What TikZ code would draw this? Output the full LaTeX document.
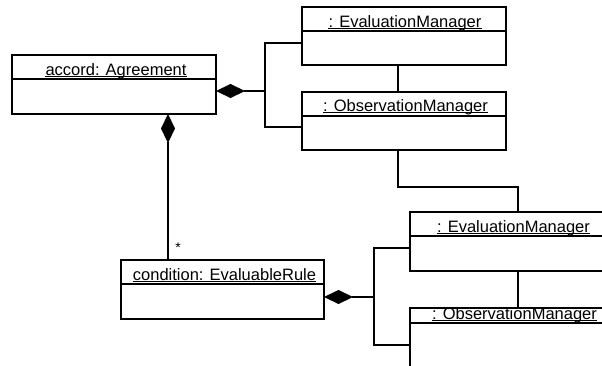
\documentclass[tikz,border=0pt]{standalone}
\usepackage{fontspec}
\setmainfont{Liberation Sans}
\usetikzlibrary{arrows.meta}
\begin{document}
\begin{tikzpicture}[x=1pt,y=-1pt,
  box/.style={draw, line width=1.1pt, inner sep=0pt, outer sep=0pt, anchor=north west},
  lbl/.style={inner sep=0pt, anchor=base, font=\fontsize{16.5}{18}\selectfont},
  uln/.style={draw, line width=0.8pt},
  conn/.style={draw, line width=1.1pt},
  comp/.style={conn, {Diamond[length=29pt,width=14pt]}-}]
\useasboundingbox (0,0) rectangle (602,365);
\fill[white] (0,0) rectangle (602,365);
\clip (0,0) rectangle (602,365);
% boxes
\node[box, minimum width=204pt, minimum height=59pt] (agr) at (12,55) {};
\node[box, minimum width=204pt, minimum height=58pt] (emA) at (302,7) {};
\node[box, minimum width=204pt, minimum height=58pt] (omA) at (302,92) {};
\node[box, minimum width=240pt, minimum height=59pt] (emB) at (410,212) {};
\node[box, minimum width=240pt, minimum height=100pt] (omB) at (410,308) {};
\node[box, minimum width=203pt, minimum height=59pt] (cond) at (121,260) {};
% dividers
\draw[line width=1.1pt] (agr.west |- 0,79) -- (agr.east |- 0,79);
\draw[line width=1.1pt] (emA.west |- 0,31) -- (emA.east |- 0,31);
\draw[line width=1.1pt] (omA.west |- 0,116) -- (omA.east |- 0,116);
\draw[line width=1.1pt] (emB.west |- 0,236) -- (emB.east |- 0,236);
\draw[line width=1.1pt] (omB.west |- 0,323) -- (omB.east |- 0,323);
\draw[line width=1.1pt] (cond.west |- 0,284) -- (cond.east |- 0,284);
% labels
\node[lbl] (agrT) at (116,75) {accord: Agreement};
\node[lbl] (emAT) at (405,27) {: EvaluationManager};
\node[lbl] (omAT) at (405.5,111) {: ObservationManager};
\node[lbl] (emBT) at (513.5,232) {: EvaluationManager};
\node[lbl] (omBT) at (514.5,319) {: ObservationManager};
\node[lbl] (condT) at (224.5,280) {condition: EvaluableRule};
\foreach \t in {agrT,emAT,omAT,emBT,omBT,condT}{
  \path[uln] ([yshift=-1.8pt]\t.base west) -- ([yshift=-1.8pt]\t.base east);
}
\node[lbl, font=\fontsize{14}{16}\selectfont] (star) at (178,252) {*};
% connectors
\coordinate (j1) at (265,91);
\path[comp] (agr.east |- j1) -- (j1);
\path[conn] (emA.west |- 0,43) -- (265,43) -- (265,127) -- (omA.west |- 0,127);
\path[conn] (emA.south -| 398,0) -- (omA.north -| 398,0);
\path[conn] (omA.south -| 398,0) -- (398,187) -- (518,187) -- (emB.north -| 518,0);
\path[conn] (emB.south -| 518,0) -- (omB.north -| 518,0);
\path[comp] (agr.south -| 168,0) -- (cond.north -| 168,0);
\coordinate (j2) at (374,297);
\path[comp] (cond.east |- j2) -- (j2);
\path[conn] (emB.west |- 0,248) -- (374,248) -- (374,345) -- (omB.west |- 0,345);
\end{tikzpicture}
\end{document}
